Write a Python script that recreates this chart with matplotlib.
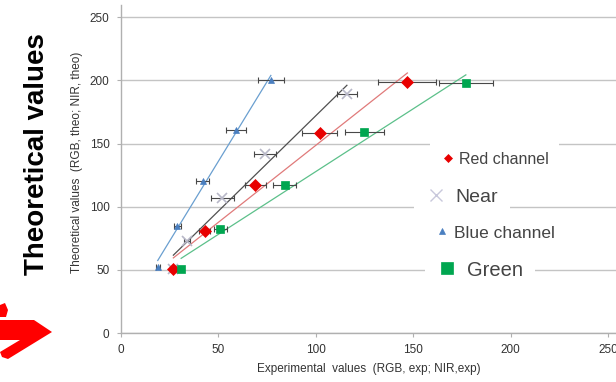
import numpy as np
import matplotlib
matplotlib.use("Agg")
import matplotlib.pyplot as plt
from matplotlib.lines import Line2D
from matplotlib.patches import Polygon

# ---- data ----
red_x = [27, 43, 69, 102, 147]
red_y = [51, 81, 117, 158, 199]
red_err = [1.5, 2.8, 5.3, 8.9, 14.8]

green_x = [31, 51, 84, 125, 177]
green_y = [51, 82, 117, 159, 198]
green_err = [1.0, 3.3, 6.0, 10.2, 13.9]

blue_x = [19, 29, 42, 59, 77]
blue_y = [52, 85, 120, 161, 200]
blue_err = [1.0, 1.7, 3.2, 5.0, 6.7]

near_x = [27, 34, 52, 74, 116]
near_y = [51, 73, 107, 142, 189]
near_err = [1.0, 1.6, 5.9, 5.6, 5.3]

xticks = [0, 50, 100, 150, 200, 250]
yticks = [0, 50, 100, 150, 200, 250]

W, H = 616, 382
fig = plt.figure(figsize=(W / 100, H / 100), dpi=100)
plt.rcParams['font.family'] = ['Liberation Sans', 'DejaVu Sans']
ax = fig.add_axes([120.7 / W, 1 - 333 / H, 1 - 120.7 / W, (333 - 5) / H])
ax.set_xlim(0, 254)
ax.set_ylim(0, 259.7)

ax.yaxis.grid(True, color='#c4c4c4', linewidth=1.0)
ax.set_axisbelow(True)
for s in ['top', 'right']:
    ax.spines[s].set_visible(False)
for s in ['left', 'bottom']:
    ax.spines[s].set_color('#b0b0b0')
    ax.spines[s].set_linewidth(1.0)
ax.set_xticks(xticks)
ax.set_yticks(yticks)
ax.tick_params(axis='both', colors='#b0b0b0', labelcolor='#333333', labelsize=8.5, length=3)
ax.tick_params(axis='x', pad=5)
ax.tick_params(axis='y', pad=5)

series = [
    (near_x, near_y, near_err, '#505050', 'x', '#b8b8c8', 7, 0.9),
    (blue_x, blue_y, blue_err, '#6a9fd0', '^', '#4a7fc0', 5, 0.9),
    (red_x, red_y, red_err, '#e07a7a', 'D', '#e80000', 6, 0.9),
    (green_x, green_y, green_err, '#5cc08a', 's', '#00a650', 6, 0.9),
]
for xs, ys, es, lc, mk, mc, ms, lw in series:
    xs = np.array(xs, float); ys = np.array(ys, float)
    a, b = np.polyfit(xs, ys, 1)
    xl = np.array([xs.min(), xs.max()])
    ax.plot(xl, a * xl + b, color=lc, linewidth=lw, zorder=2)
    ax.errorbar(xs, ys, xerr=es, fmt='none', ecolor='#484848', elinewidth=0.8,
                capsize=2.5, capthick=0.8, zorder=3)
    ax.plot(xs, ys, linestyle='none', marker=mk, color=mc, markersize=ms,
            markeredgewidth=1.2 if mk == 'x' else 0.5, zorder=4)

ax.set_xlabel('Experimental  values  (RGB, exp; NIR,exp)', fontsize=8.5, color='#333333', labelpad=5)
ax.set_ylabel('Theoretical values  (RGB, theo; NIR, theo)', fontsize=8.5, color='#333333')
ax.yaxis.set_label_coords(-0.076, 0.521)

# ---- legend entries (separate white boxes) ----
entries = [
    ('Red channel', 'D', '#e80000', 4, 11.5, (494.5, 159), 0.2),
    ('Near', 'x', '#c8c8dc', 8, 14, (462, 197), 0.5),
    ('Blue channel', '^', '#4a7fc0', 4.5, 12.5, (494, 233), 0.15),
    ('Green', 's', '#00a650', 8, 14.5, (480, 270), 0.5),
]
for label, mk, mc, ms, fs, (cx, cy), tp in entries:
    h = Line2D([], [], linestyle='none', marker=mk, color=mc, markersize=ms,
               markeredgewidth=1.0 if mk == 'x' else 0.5)
    leg = ax.legend([h], [label], loc='center', bbox_to_anchor=(cx / W, 1 - cy / H),
                    bbox_transform=fig.transFigure, fontsize=fs, frameon=True,
                    facecolor='white', edgecolor='none', framealpha=1.0, fancybox=False,
                    handlelength=1.0, handletextpad=tp, borderpad=0.6)
    for t in leg.get_texts():
        t.set_color('#444444')
    ax.add_artist(leg)

# ---- big side title ----
fig.text(37 / W, 1 - 154 / H, 'Theoretical values', rotation=90, fontsize=20,
         fontweight='bold', ha='center', va='center', color='black')

# ---- red arrow decoration ----
def fp(x, y):
    return (x / W, 1 - y / H)
arrow = Polygon([fp(0, 320), fp(34, 320), fp(52, 332), fp(8, 359), fp(2, 357),
                 fp(0, 352), fp(20, 340), fp(0, 340)], closed=True,
                transform=fig.transFigure, facecolor='#ff0000', edgecolor='none')
fig.patches.append(arrow)
blob = Polygon([fp(0, 305), fp(5, 303), fp(8, 310), fp(6, 317), fp(0, 317)], closed=True,
               transform=fig.transFigure, facecolor='#ff0000', edgecolor='none')
fig.patches.append(blob)

fig.savefig('out.png', dpi=100)
